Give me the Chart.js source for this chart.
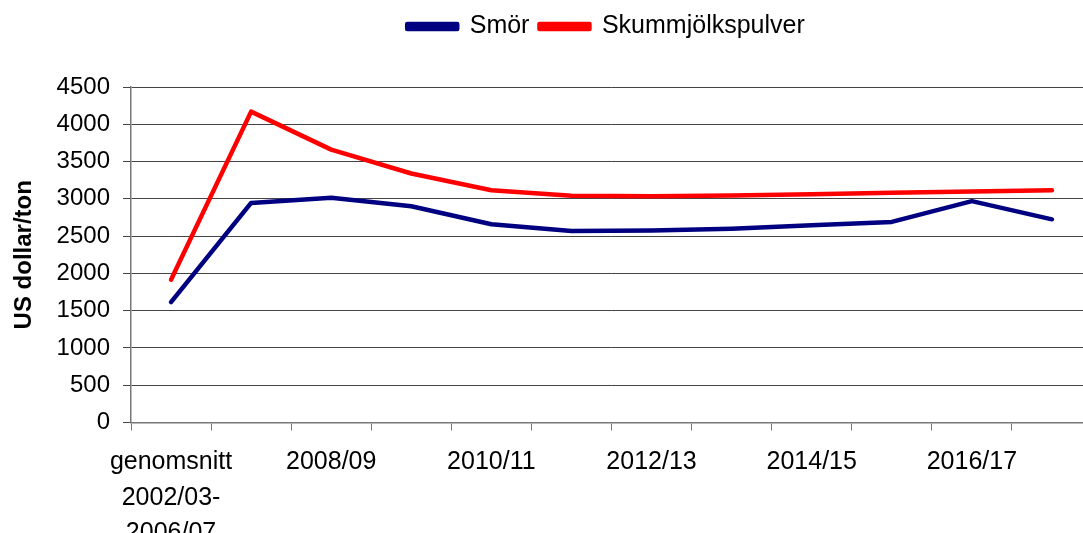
<!DOCTYPE html>
<html>
<head>
<meta charset="utf-8">
<script src="https://cdn.jsdelivr.net/npm/chart.js@4"></script>
<style>
    html, body { margin: 0; padding: 0; background: #fff; overflow: hidden; }
    #wrap { width: 1092px; height: 566px; position: relative; }
</style>
</head>
<body>
<div id="wrap"><canvas id="mainChart"></canvas></div>
<script>
const categories = [
    ['genomsnitt', '2002/03-', '2006/07'],
    '2007/08', '2008/09', '2009/10', '2010/11', '2011/12',
    '2012/13', '2013/14', '2014/15', '2015/16', '2016/17', '2017/18'
];
const smor = [1615, 2945, 3015, 2900, 2660, 2570, 2575, 2600, 2645, 2690, 2970, 2725];
const skummjolkspulver = [1915, 4170, 3660, 3340, 3115, 3040, 3035, 3045, 3060, 3080, 3100, 3115];
const yTicks = [0, 500, 1000, 1500, 2000, 2500, 3000, 3500, 4000, 4500];

const fontFamily = '"Liberation Sans", Arial, sans-serif';

// shift the legend to where the original has it
const legendShift = {
    id: 'legendShift',
    afterLayout(chart) {
        const lg = chart.legend;
        if (!lg) return;
        const dx = 60, dy = -38;
        lg.left += dx; lg.right += dx;
        lg.top += dy; lg.bottom += dy;
    }
};

const ctx = document.getElementById('mainChart').getContext('2d');
new Chart(ctx, {
    type: 'line',
    data: {
        labels: categories,
        datasets: [{
            label: 'Smör',
            data: smor,
            borderColor: '#000080',
            backgroundColor: '#000080',
            borderWidth: 4.5,
            pointRadius: 0,
            tension: 0,
            borderCapStyle: 'round',
            borderJoinStyle: 'round'
        }, {
            label: 'Skummjölkspulver',
            data: skummjolkspulver,
            borderColor: '#ff0000',
            backgroundColor: '#ff0000',
            borderWidth: 4.5,
            pointRadius: 0,
            tension: 0,
            borderCapStyle: 'round',
            borderJoinStyle: 'round'
        }]
    },
    plugins: [legendShift],
    options: {
        responsive: true,
        maintainAspectRatio: false,
        animation: false,
        layout: { padding: { top: 42, bottom: 1, left: 0, right: 0 } },
        plugins: {
            legend: {
                position: 'top',
                labels: {
                    boxWidth: 50,
                    boxHeight: 5,
                    padding: 10,
                    color: '#000',
                    font: { family: fontFamily, size: 25 }
                }
            },
            tooltip: { enabled: false }
        },
        scales: {
            x: {
                offset: true,
                grid: {
                    offset: true,
                    drawOnChartArea: false,
                    drawTicks: true,
                    tickLength: 8,
                    color: '#777'
                },
                border: { color: '#777', width: 1.5 },
                ticks: {
                    autoSkip: false,
                    maxRotation: 0,
                    padding: 14,
                    color: '#000',
                    font: { family: fontFamily, size: 25, lineHeight: 1.42 },
                    callback: function(value, index) {
                        return index % 2 === 0 ? this.getLabelForValue(value) : '';
                    }
                }
            },
            y: {
                min: 0,
                max: 4500,
                afterFit: function(scale) { scale.width = 131; },
                afterBuildTicks: function(scale) {
                    scale.ticks = yTicks.map(v => ({ value: v }));
                },
                grid: {
                    color: '#444',
                    tickLength: 8,
                    lineWidth: 1
                },
                border: { color: '#777', width: 1.5 },
                ticks: {
                    padding: 13,
                    color: '#000',
                    font: { family: fontFamily, size: 24 },
                    callback: function(value) { return String(value); }
                },
                title: {
                    display: true,
                    text: 'US dollar/ton',
                    color: '#000',
                    padding: { top: 10, bottom: 0 },
                    font: { family: fontFamily, size: 24, weight: 'bold' }
                }
            }
        }
    }
});
</script>
</body>
</html>
